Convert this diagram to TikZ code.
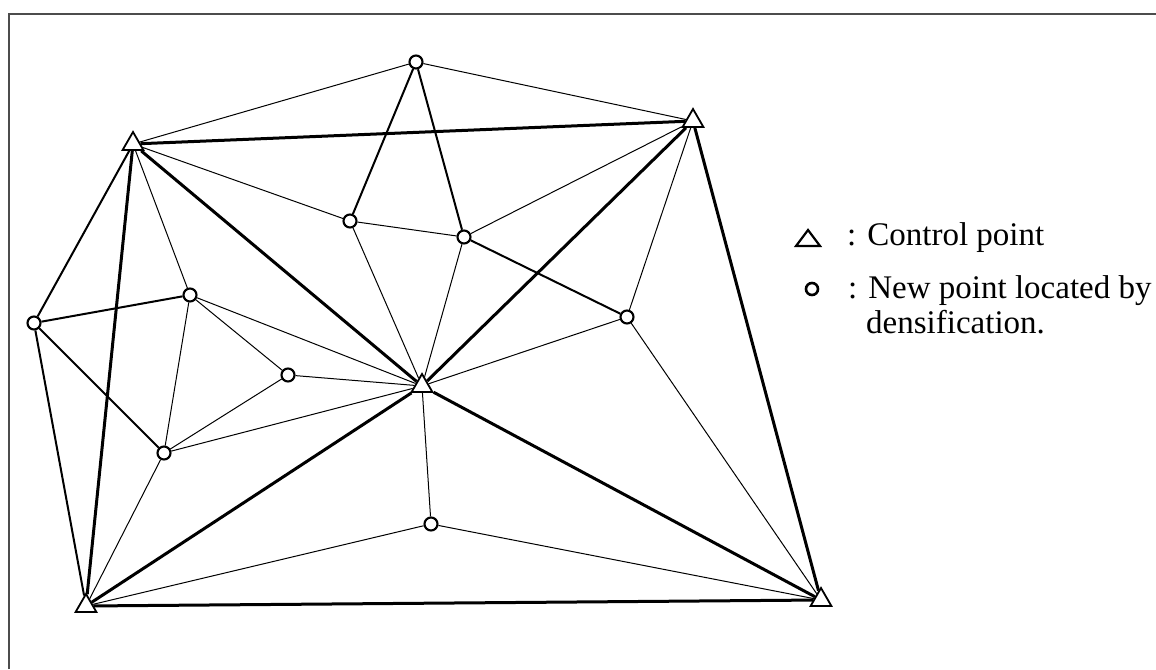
\documentclass[tikz,border=0pt]{standalone}
\usepackage{fontspec}
\setmainfont{Liberation Serif}
\usetikzlibrary{shapes.geometric}
\begin{document}
\begin{tikzpicture}[x=1pt,y=-1pt,
  thickline/.style={line width=3pt},
  medline/.style={line width=2pt},
  thinline/.style={line width=1pt},
  framel/.style={line width=1.1pt, draw=black!70},
  ctrl/.style={draw, regular polygon, regular polygon sides=3, minimum size=24pt, inner sep=0pt, line width=1.8pt, fill=white},
  newpt/.style={draw, circle, minimum size=13pt, inner sep=0pt, line width=2.1pt, fill=white},
  legtext/.style={font=\fontsize{33}{36}\selectfont, anchor=base west, inner sep=0pt}
]
\useasboundingbox (0,0) rectangle (1156,669);
% frame
\coordinate (fa) at (9,669);
\coordinate (fb) at (9,14);
\coordinate (fc) at (1156,14);
\draw[framel] (fa) -- (fb) -- (fc);

% points
\node[ctrl] (T1) at (133,144) {};
\node[ctrl] (T2) at (693,121) {};
\node[ctrl] (T3) at (422,386) {};
\node[ctrl] (T4) at (86,606) {};
\node[ctrl] (T5) at (821,600) {};

\node[newpt] (C1) at (416,62) {};
\node[newpt] (C2) at (350,221) {};
\node[newpt] (C3) at (464,237) {};
\node[newpt] (C4) at (190,295) {};
\node[newpt] (C5) at (34,323) {};
\node[newpt] (C6) at (288,375) {};
\node[newpt] (C7) at (627,317) {};
\node[newpt] (C8) at (164,453) {};
\node[newpt] (C9) at (431,524) {};

% thick lines
\draw[thickline] (T1) -- (T2);
\draw[thickline] (T1) -- (T3);
\draw[thickline] (T1) -- (T4);
\draw[thickline] (T2) -- (T3);
\draw[thickline] (T2) -- (T5);
\draw[thickline] (T3) -- (T4);
\draw[thickline] (T3) -- (T5);
\draw[thickline] (T4) -- (T5);

% medium lines
\draw[medline] (C1) -- (C2);
\draw[medline] (C1) -- (C3);
\draw[medline] (C3) -- (C7);
\draw[medline] (C5) -- (C4);
\draw[medline] (C5) -- (T1);
\draw[medline] (C5) -- (C8);
\draw[medline] (C5) -- (T4);

% thin lines
\draw[thinline] (C1) -- (T1);
\draw[thinline] (C1) -- (T2);
\draw[thinline] (T1) -- (C2);
\draw[thinline] (T1) -- (C4);
\draw[thinline] (C2) -- (C3);
\draw[thinline] (C2) -- (T3);
\draw[thinline] (C3) -- (T3);
\draw[thinline] (C3) -- (T2);
\draw[thinline] (T2) -- (C7);
\draw[thinline] (C7) -- (T3);
\draw[thinline] (C7) -- (T5);
\draw[thinline] (C4) -- (C6);
\draw[thinline] (C4) -- (T3);
\draw[thinline] (C4) -- (C8);
\draw[thinline] (C6) -- (T3);
\draw[thinline] (C6) -- (C8);
\draw[thinline] (C8) -- (T3);
\draw[thinline] (C8) -- (T4);
\draw[thinline] (T3) -- (C9);
\draw[thinline] (C9) -- (T4);
\draw[thinline] (C9) -- (T5);

% legend
\coordinate (LT) at (808,238);
\draw[line width=2.2pt, line join=miter] (LT) ++(-12,8) -- ++(12,-16) -- ++(12,16) -- cycle;
\node[newpt, minimum size=12pt, line width=2.6pt] (LC) at (812,289) {};
\node[legtext] (L1) at (847,245) {: Control point};
\node[legtext] (L2) at (848,298) {: New point located by};
\node[legtext] (L3) at (866,333) {densification.};
\end{tikzpicture}
\end{document}
